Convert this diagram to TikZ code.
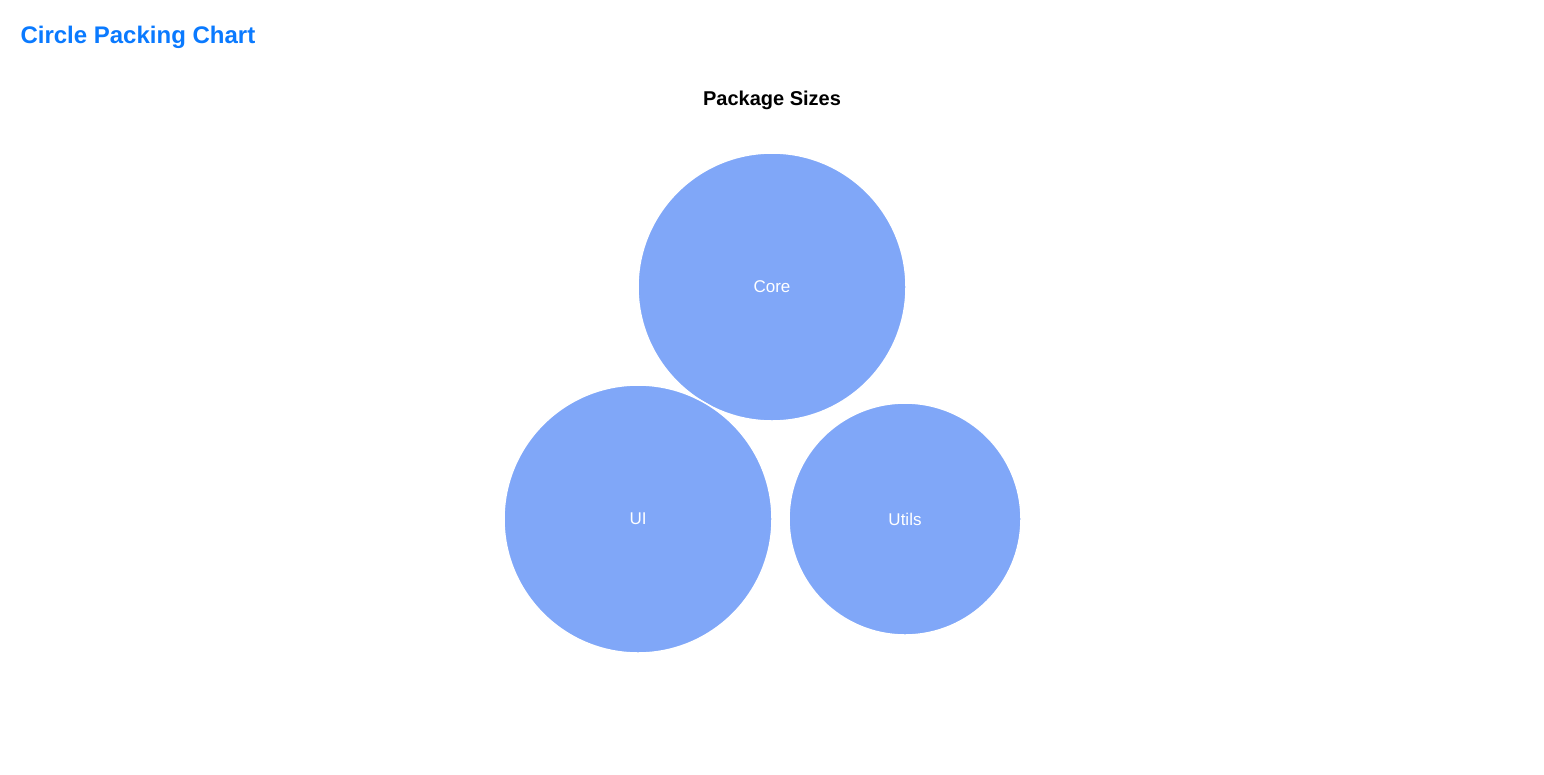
\documentclass[tikz,border=0pt]{standalone}
\usepackage{fontspec}
\setmainfont{Liberation Sans}
\definecolor{bub}{HTML}{80A7F8}
\definecolor{ttl}{HTML}{0A7AFF}
\begin{document}
\begin{tikzpicture}[x=1pt,y=-1pt,
  bubble/.style={circle,fill=bub,draw=white,line width=1.5pt,inner sep=0pt,text=white,font=\fontsize{17}{20}\selectfont}]
\useasboundingbox[fill=white] (0,0) rectangle (1544,774);
\node[anchor=west,text=ttl,font=\fontsize{24}{28}\selectfont\bfseries] (title) at (17,37) {Circle Packing Chart};
\node[font=\fontsize{20}{24}\selectfont\bfseries] (sub) at (772,100) {Package Sizes};
\node[bubble,minimum size=268pt] (core) at (772,287) {Core};
\node[bubble,minimum size=268pt] (ui) at (638,519) {UI};
\node[bubble,minimum size=232pt] (utils) at (905,519) {Utils};
\end{tikzpicture}
\end{document}
